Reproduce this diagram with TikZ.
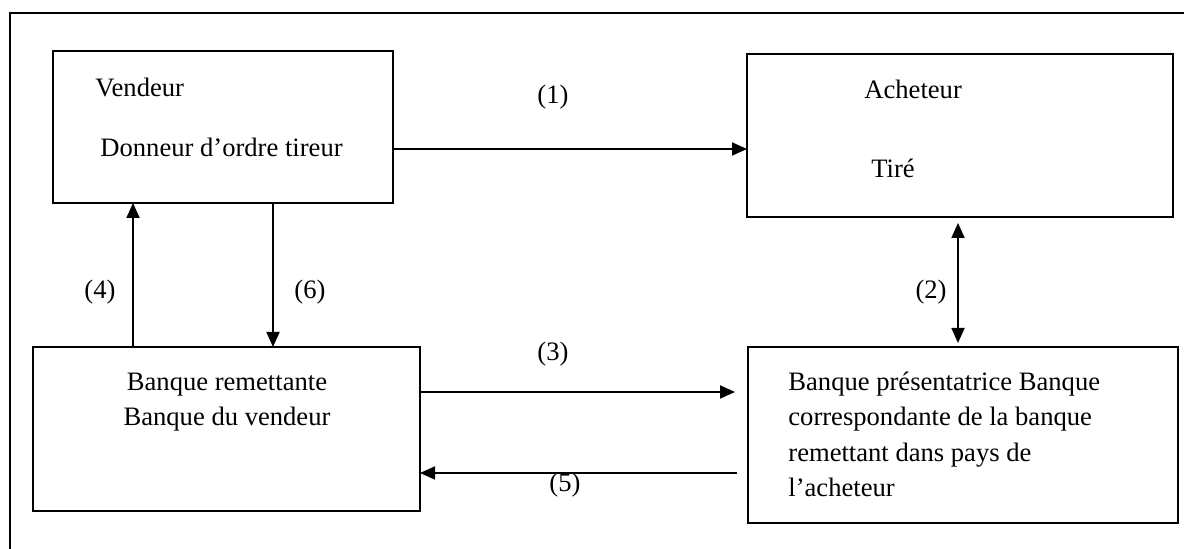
\documentclass[tikz,border=0pt]{standalone}
\usepackage{fontspec}
\setmainfont{Liberation Serif}
\usetikzlibrary{arrows.meta,calc}
\begin{document}
\begin{tikzpicture}[x=0.5pt,y=-0.5pt,
  box/.style={draw,line width=0.9pt,inner sep=0pt,outer sep=0pt},
  arr/.style={line width=0.9pt,-{Triangle[length=7.5pt,width=6.5pt]}},
  darr/.style={line width=0.9pt,{Triangle[length=7.5pt,width=6.5pt]}-{Triangle[length=7.5pt,width=6.5pt]}},
  txt/.style={inner sep=0pt,font=\fontsize{13.3}{17.75}\selectfont},
  lbl/.style={inner sep=0pt,font=\fontsize{13.3}{17.75}\selectfont}]
\useasboundingbox (0,0) rectangle (1184,549);
\fill[white] (0,0) rectangle (1184,549);
% outer frame (only top and left edges visible)
\coordinate (fbl) at (10,549);
\coordinate (ftl) at (10,13);
\coordinate (ftr) at (1184,13);
\draw[line width=0.9pt] (fbl) -- (ftl) -- (ftr);
% boxes
\node[box,minimum width=170pt,minimum height=76pt] (V) at (223,127) {};
\node[box,minimum width=213pt,minimum height=81.5pt] (A) at (960,135.5) {};
\node[box,minimum width=193.5pt,minimum height=82pt] (BR) at (226.5,429) {};
\node[box,minimum width=215pt,minimum height=88pt] (BP) at (963,435) {};
% texts
\node[txt,anchor=base west] (tv1) at (95,97) {Vendeur};
\node[txt,anchor=base west] (tv2) at (100,157) {Donneur d’ordre tireur};
\node[txt,anchor=base west] (ta1) at (864,99) {Acheteur};
\node[txt,anchor=base west] (ta2) at (871,178) {Tiré};
\node[txt,anchor=base,align=center,font=\fontsize{13.3}{17.5}\selectfont] (tbr) at (227,426) {Banque remettante\\Banque du vendeur};
\node[txt,anchor=base west,align=left] (tbp) at (788,497) {Banque présentatrice Banque\\correspondante de la banque\\remettant dans pays de\\l’acheteur};
% helper coordinates
\coordinate (y1) at (0,149);
\coordinate (x4) at (133,0);
\coordinate (x6) at (273,0);
\coordinate (x2) at (958,0);
\coordinate (y3) at (0,392);
\coordinate (y5) at (0,473);
% connectors
\draw[arr] (V.east |- y1) -- (A.west |- y1);
\draw[arr] (BR.north -| x4) -- (V.south -| x4);
\draw[arr] (V.south -| x6) -- (BR.north -| x6);
\draw[darr,shorten <=3pt,shorten >=2pt] (A.south -| x2) -- (BP.north -| x2);
\draw[arr,shorten >=6.5pt] (BR.east |- y3) -- (BP.west |- y3);
\draw[arr,shorten <=5.5pt] (BP.west |- y5) -- (BR.east |- y5);
% labels
\node[lbl] (l1) at (553,97) {(1)};
\node[lbl] (l2) at (931,292) {(2)};
\node[lbl] (l3) at (553,354) {(3)};
\node[lbl] (l4) at (100,292) {(4)};
\node[lbl] (l5) at (565,485) {(5)};
\node[lbl] (l6) at (310,292) {(6)};
\end{tikzpicture}
\end{document}
